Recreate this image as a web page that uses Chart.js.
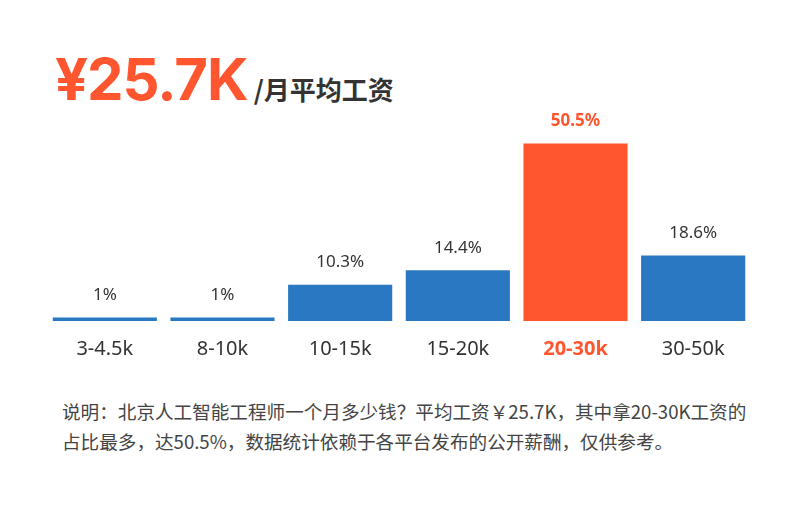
<!DOCTYPE html>
<html><head><meta charset="utf-8">
<script src="https://cdn.jsdelivr.net/npm/chart.js@4"></script>
<style>
body{margin:0;background:#fff;font-family:"Noto Sans CJK SC","Noto Sans",sans-serif;width:802px;height:528px;position:relative;overflow:hidden}
#head{position:absolute;left:55px;top:44px;white-space:nowrap}
#big{font-family:Inter,"Noto Sans",sans-serif;font-weight:700;font-size:58px;color:#ff5630;letter-spacing:-1px}
#unit{font-size:26px;font-weight:700;color:#333;margin-left:6px}
#box{position:absolute;left:46px;top:110px;width:706px;height:251px}
#note{position:absolute;left:62px;top:396px;width:690px;font-size:18.6px;line-height:30px;color:#444}
</style></head><body>
<div id="head"><span id="big">¥25.7K</span><span id="unit">/月平均工资</span></div>
<div id="box"><canvas id="c"></canvas></div>
<div id="note">说明：北京人工智能工程师一个月多少钱？平均工资￥25.7K，其中拿20-30K工资的占比最多，达50.5%，数据统计依赖于各平台发布的公开薪酬，仅供参考。</div>
<script>
const categories = ['3-4.5k', '8-10k', '10-15k', '15-20k', '20-30k', '30-50k'];
const shares = [1, 1, 10.3, 14.4, 50.5, 18.6];
const shareLabels = ['1%', '1%', '10.3%', '14.4%', '50.5%', '18.6%'];
const highlight = 4;

const BLUE = '#2a78c2', ORANGE = '#ff5630';

const valueLabels = {
  id: 'valueLabels',
  afterDatasetsDraw(chart) {
    const ctx = chart.ctx;
    chart.getDatasetMeta(0).data.forEach((bar, i) => {
      ctx.save();
      ctx.textAlign = 'center';
      ctx.textBaseline = 'bottom';
      ctx.fillStyle = i === highlight ? ORANGE : '#333';
      ctx.font = (i === highlight ? '700 ' : '400 ') + '17px "Noto Sans", sans-serif';
      ctx.fillText(shareLabels[i], bar.x, bar.y - 14);
      ctx.restore();
    });
  }
};

new Chart(document.getElementById('c'), {
  type: 'bar',
  data: {
    labels: categories,
    datasets: [{
      data: shares,
      backgroundColor: shares.map((v, i) => i === highlight ? ORANGE : BLUE),
      categoryPercentage: 1,
      barPercentage: 0.885
    }]
  },
  options: {
    responsive: true,
    maintainAspectRatio: false,
    animation: false,
    layout: { padding: 0 },
    plugins: { legend: { display: false }, tooltip: { enabled: false } },
    scales: {
      x: {
        grid: { display: false },
        border: { display: false },
        afterFit: s => { s.height = 40; },
        ticks: {
          padding: 8,
          color: c => c.index === highlight ? ORANGE : '#333',
          font: c => ({ family: 'Noto Sans', size: 20, weight: c.index === highlight ? '700' : '400' })
        }
      },
      y: { display: false, min: 0, max: 60 }
    }
  },
  plugins: [valueLabels]
});
</script>
</body></html>
